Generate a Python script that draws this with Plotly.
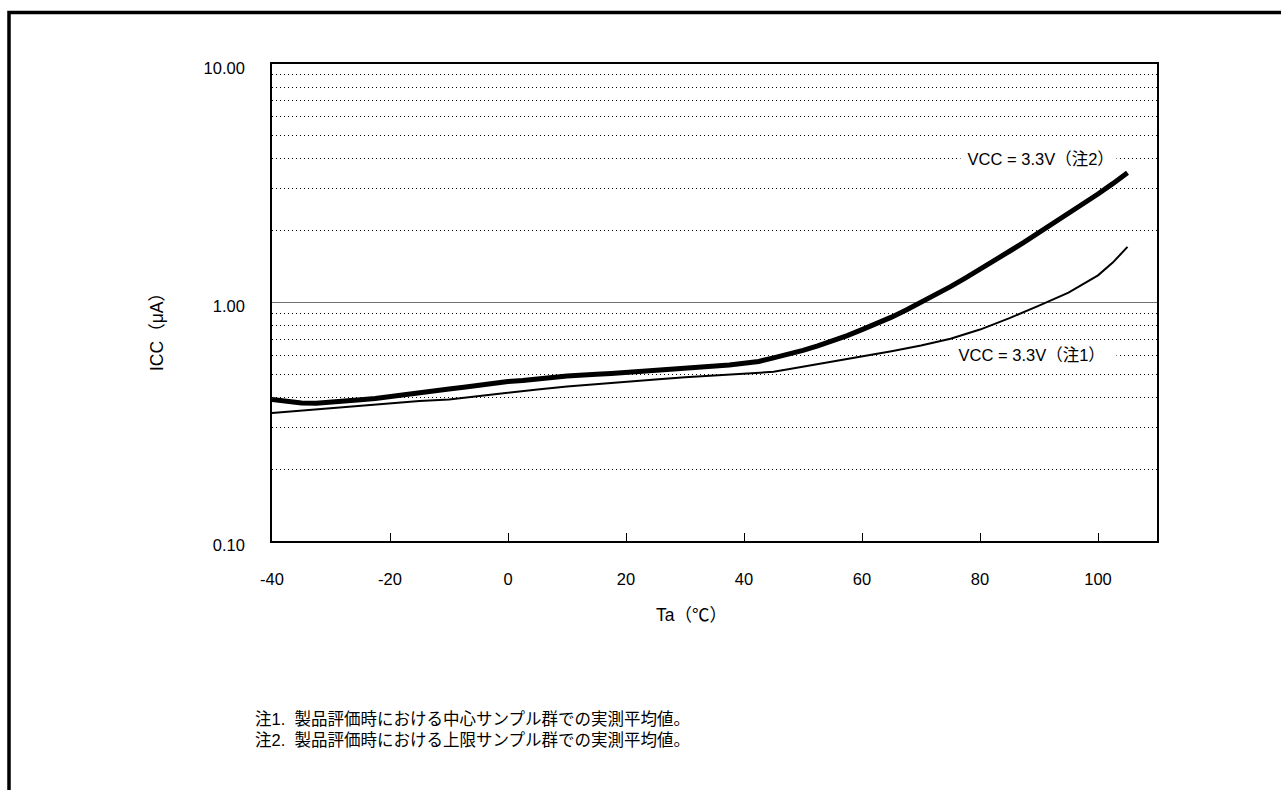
import math
import plotly.graph_objects as go

# Ambient temperature (°C) and measured supply current (µA)
temp_c = [-40, -37.5, -35, -32.5, -30, -27.5, -25, -22.5, -20, -17.5, -15, -12.5,
          -10, -7.5, -5, -2.5, 0, 2.5, 5, 7.5, 10, 12.5, 15, 17.5, 20, 22.5, 25,
          27.5, 30, 32.5, 35, 37.5, 40, 42.5, 45, 47.5, 50, 52.5, 55, 57.5, 60,
          62.5, 65, 67.5, 70, 72.5, 75, 77.5, 80, 82.5, 85, 87.5, 90, 92.5, 95,
          97.5, 100, 102.5, 105]

# 注2: upper sample group
icc_upper = [0.392, 0.386, 0.379, 0.378, 0.381, 0.384, 0.391, 0.396, 0.404, 0.412,
             0.417, 0.427, 0.434, 0.441, 0.450, 0.456, 0.466, 0.471, 0.480, 0.485,
             0.492, 0.498, 0.500, 0.504, 0.509, 0.512, 0.516, 0.521, 0.527, 0.533,
             0.540, 0.547, 0.556, 0.566, 0.586, 0.606, 0.630, 0.658, 0.690, 0.726,
             0.770, 0.815, 0.868, 0.930, 1.000, 1.075, 1.165, 1.265, 1.385, 1.505,
             1.640, 1.790, 1.960, 2.150, 2.350, 2.580, 2.850, 3.150, 3.500]

temp_c_center = [-40, -35, -30, -25, -20, -15, -10, -5, 0, 5, 10, 15, 20, 25, 30,
                 35, 40, 45, 47.5, 50, 52.5, 55, 57.5, 60, 65, 70, 75, 80, 85, 90,
                 95, 100, 102.5, 105]

# 注1: center sample group
icc_center = [0.344, 0.352, 0.360, 0.368, 0.376, 0.386, 0.392, 0.405, 0.420, 0.432,
              0.444, 0.455, 0.465, 0.476, 0.486, 0.495, 0.503, 0.512, 0.525, 0.538,
              0.555, 0.568, 0.580, 0.595, 0.625, 0.660, 0.705, 0.770, 0.860, 0.970,
              1.100, 1.300, 1.470, 1.710]

x_ticks = [-40, -20, 0, 20, 40, 60, 80, 100]
x_tick_text = ["-40", "-20", "0", "20", "40", "60", "80", "100"]
y_ticks = [0.1, 1, 10]
y_tick_text = ["0.10", "1.00", "10.00"]
y_minor = [0.2, 0.3, 0.4, 0.5, 0.6, 0.7, 0.8, 0.9, 2, 3, 4, 5, 6, 7, 8, 9]

label_upper = "\u00a0VCC = 3.3V（注2）"
label_upper_at = 4
label_center = "\u00a0VCC = 3.3V（注1）\u00a0\u00a0"
label_center_at = 0.6
notes = ["注1.\u00a0\u00a0製品評価時における中心サンプル群での実測平均値。",
         "注2.\u00a0\u00a0製品評価時における上限サンプル群での実測平均値。"]

FONT = "Liberation Sans, Arial, Noto Sans CJK JP, sans-serif"
FS = 16.5

W, H = 1281, 790
L, R, T, B = 272, 124, 64, 249
PW, PH = W - L - R, H - T - B


def px_x(px):
    return (px - L) / PW


def px_y(py):
    return (H - B - py) / PH


fig = go.Figure()
fig.add_trace(go.Scatter(x=temp_c_center, y=icc_center, mode="lines",
                         line=dict(color="black", width=2), showlegend=False))
fig.add_trace(go.Scatter(x=temp_c, y=icc_upper, mode="lines",
                         line=dict(color="black", width=5), showlegend=False))

fig.update_xaxes(range=[-40, 110], tickvals=x_ticks, ticktext=x_tick_text,
                 ticks="inside", ticklen=8,
                 tickwidth=1.3, tickcolor="black", showgrid=False, zeroline=False,
                 showline=True, linecolor="black", linewidth=1.6, mirror=True,
                 ticklabelstandoff=22,
                 tickfont=dict(family=FONT, size=FS, color="black"))
fig.update_yaxes(type="log", range=[-1, 1], tickvals=y_ticks, ticktext=y_tick_text,
                 ticks="", showgrid=True, gridcolor="#707070", gridwidth=1,
                 zeroline=False, showline=True, linecolor="black", linewidth=1.6,
                 mirror=True, ticklabelstandoff=22, ticklabelshift=4,
                 minor=dict(tickvals=y_minor, showgrid=True, gridcolor="black",
                            gridwidth=1, griddash="1px,3px", ticks=""),
                 tickfont=dict(family=FONT, size=FS, color="black"))

annotations = [
    dict(text="Ta（℃）", x=px_x(691), y=px_y(615), xref="paper", yref="paper",
         showarrow=False, xanchor="center", yanchor="middle",
         font=dict(size=17.5)),
    dict(text="ICC（μA）", x=px_x(157), y=px_y(328), xref="paper", yref="paper",
         showarrow=False, textangle=-90, xanchor="center", yanchor="middle",
         font=dict(size=17.5)),
    dict(text=label_upper, x=px_x(1117), y=math.log10(label_upper_at),
         xref="paper", yref="y",
         showarrow=False, xanchor="right", yanchor="middle", bgcolor="white",
         borderpad=2),
    dict(text=label_center, x=px_x(1117), y=math.log10(label_center_at),
         xref="paper", yref="y",
         showarrow=False, xanchor="right", yanchor="middle", bgcolor="white",
         borderpad=2),
]
for i, note in enumerate(notes):
    annotations.append(dict(text=note, x=px_x(253), y=px_y(719 + 21 * i),
                            xref="paper", yref="paper", showarrow=False,
                            xanchor="left", yanchor="middle"))

fig.update_layout(
    width=W, height=H,
    margin=dict(l=L, r=R, t=T, b=B),
    paper_bgcolor="white", plot_bgcolor="white",
    font=dict(family=FONT, size=FS, color="black"),
    annotations=annotations,
    shapes=[dict(type="rect", xref="paper", yref="paper",
                 x0=px_x(9), y0=-0.7, x1=1.3, y1=px_y(12.5),
                 line=dict(color="black", width=3.5), layer="above")],
)

fig.write_html("out.html")
